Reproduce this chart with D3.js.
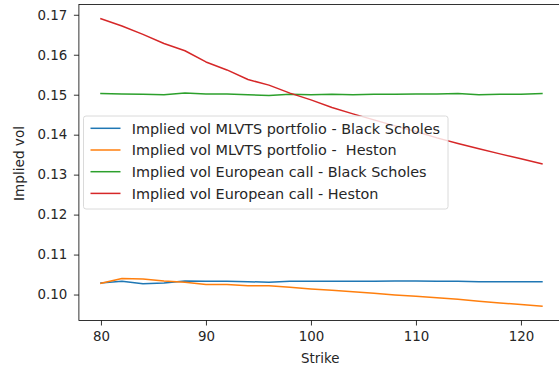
<!DOCTYPE html>
<html>
<head>
<meta charset="utf-8">
<script src="https://cdn.jsdelivr.net/npm/d3@7"></script>
<style>
  html, body { margin: 0; padding: 0; background: #fff; }
  svg { display: block; font-family: "DejaVu Sans", sans-serif; }
</style>
</head>
<body>
<svg id="chart" width="559" height="369"></svg>
<script>
const strikes = [80, 82, 84, 86, 88, 90, 92, 94, 96, 98, 100, 102, 104, 106, 108, 110, 112, 114, 116, 118, 120, 122];
const mlvtsBS = [0.1029, 0.1033, 0.1027, 0.1029, 0.1034, 0.1033, 0.1033, 0.1032, 0.1031, 0.1033, 0.1033, 0.1033, 0.1033, 0.1033, 0.1034, 0.1034, 0.1033, 0.1033, 0.1032, 0.1032, 0.1032, 0.1032];
const mlvtsHeston = [0.1028, 0.1040, 0.1039, 0.1034, 0.1031, 0.1025, 0.1025, 0.1022, 0.1022, 0.1018, 0.1014, 0.1011, 0.1007, 0.1003, 0.0999, 0.0996, 0.0992, 0.0988, 0.0983, 0.0979, 0.0975, 0.0971];
const euroBS = [0.1503, 0.1502, 0.1501, 0.1500, 0.1504, 0.1502, 0.1502, 0.1500, 0.1498, 0.1501, 0.1500, 0.1501, 0.1500, 0.1501, 0.1501, 0.1502, 0.1502, 0.1503, 0.1500, 0.1501, 0.1501, 0.1503];
const euroHeston = [0.1690, 0.1672, 0.1651, 0.1628, 0.1610, 0.1582, 0.1562, 0.1538, 0.1524, 0.1504, 0.1487, 0.1468, 0.1452, 0.1437, 0.1422, 0.1408, 0.1392, 0.1378, 0.1365, 0.1352, 0.1340, 0.1327];
const seriesNames = [
  "Implied vol MLVTS portfolio - Black Scholes",
  "Implied vol MLVTS portfolio -  Heston",
  "Implied vol European call - Black Scholes",
  "Implied vol European call - Heston"
];
const seriesColors = ["#1f77b4", "#ff7f0e", "#2ca02c", "#d62728"];
const xTicks = [80, 90, 100, 110, 120];
const yTicks = [0.10, 0.11, 0.12, 0.13, 0.14, 0.15, 0.16, 0.17];
const xLabel = "Strike";
const yLabel = "Implied vol";

const seriesValues = [mlvtsBS, mlvtsHeston, euroBS, euroHeston];

const svg = d3.select("#chart");
const pLeft = 78.9, pRight = 564, pTop = 4.4, pBottom = 320.5;

const xMin = d3.min(strikes), xMax = d3.max(strikes);
const xPad = (xMax - xMin) * 0.05;
const allVals = seriesValues.flat();
const yMin = d3.min(allVals), yMax = d3.max(allVals);
const yPad = (yMax - yMin) * 0.05;

const x = d3.scaleLinear().domain([xMin - xPad, xMax + xPad]).range([pLeft, pRight]);
const y = d3.scaleLinear().domain([yMin - yPad, yMax + yPad]).range([pBottom, pTop]);

// lines
const line = d3.line().x((d, i) => x(strikes[i])).y(d => y(d));
const g = svg.append("g");
seriesValues.forEach((vals, i) => {
  g.append("path")
    .attr("d", line(vals))
    .attr("fill", "none")
    .attr("stroke", seriesColors[i])
    .attr("stroke-width", 1.5)
    .attr("stroke-linejoin", "round")
    .attr("stroke-linecap", "square");
});

// axes
const xAxis = d3.axisBottom(x).tickValues(xTicks).tickFormat(d3.format("d")).tickSize(5).tickPadding(6);
const yAxis = d3.axisLeft(y).tickValues(yTicks).tickFormat(d3.format(".2f")).tickSize(5).tickPadding(6.5);

const gx = svg.append("g").attr("transform", `translate(0,${pBottom})`).call(xAxis);
const gy = svg.append("g").attr("transform", `translate(${pLeft},0)`).call(yAxis);
[gx, gy].forEach(a => {
  a.select(".domain").remove();
  a.selectAll(".tick line").attr("stroke", "#000").attr("stroke-width", 0.8);
  a.selectAll(".tick text").attr("fill", "#262626").style("font-size", "13.4px").style("font-family", "DejaVu Sans");
});

// frame
svg.append("rect")
  .attr("x", pLeft).attr("y", pTop)
  .attr("width", pRight - pLeft).attr("height", pBottom - pTop)
  .attr("fill", "none").attr("stroke", "#000").attr("stroke-width", 0.8);

// axis labels
svg.append("text")
  .attr("x", 320.3).attr("y", 363)
  .attr("text-anchor", "middle")
  .attr("fill", "#262626")
  .style("font-size", "13.4px")
  .text(xLabel);
svg.append("text")
  .attr("transform", `translate(24,${(pTop + pBottom) / 2 + 1}) rotate(-90)`)
  .attr("text-anchor", "middle")
  .attr("fill", "#262626")
  .style("font-size", "13.6px")
  .text(yLabel);

// legend
const lg = svg.append("g");
lg.append("rect")
  .attr("x", 83.5).attr("y", 116)
  .attr("width", 364.5).attr("height", 93)
  .attr("rx", 2.5)
  .attr("fill", "#fff").attr("fill-opacity", 0.8)
  .attr("stroke", "#d0d0d0").attr("stroke-width", 0.8);
seriesNames.forEach((name, i) => {
  const yy = 128.3 + i * 21.7;
  lg.append("line")
    .attr("x1", 90.5).attr("x2", 120.5)
    .attr("y1", yy).attr("y2", yy)
    .attr("stroke", seriesColors[i]).attr("stroke-width", 1.5);
  lg.append("text")
    .attr("x", 131.7).attr("y", yy + 5.3)
    .attr("fill", "#262626")
    .style("font-size", "14.4px")
    .style("white-space", "pre")
    .text(name);
});
</script>
</body>
</html>
